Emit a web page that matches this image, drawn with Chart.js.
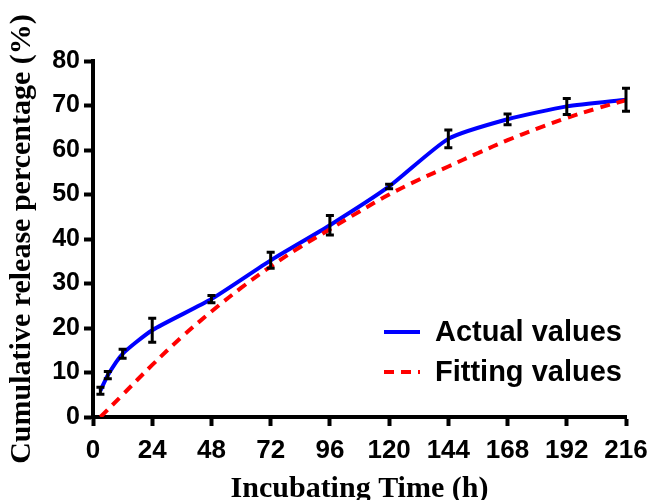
<!DOCTYPE html>
<html>
<head>
<meta charset="utf-8">
<script src="https://cdn.jsdelivr.net/npm/chart.js@4.4.1/dist/chart.umd.min.js"></script>
<style>
    html, body { margin: 0; padding: 0; background: #fff; }
    #wrap { width: 651px; height: 500px; }
</style>
</head>
<body>
<div id="wrap"><canvas id="releaseChart"></canvas></div>
<script>
// Donnees
const hours = [3, 6, 12, 24, 48, 72, 96, 120, 144, 168, 192, 216];
const actualValues = [5.9, 9.4, 14.2, 19.5, 26.5, 35.2, 43.1, 51.8, 62.5, 66.9, 69.8, 71.3];
const actualErrors = [0.8, 0.8, 1.0, 2.7, 0.8, 1.8, 2.2, 0.5, 2.0, 1.2, 1.8, 2.6];

const fitHours = [3, 12, 24, 36, 48, 60, 72, 84, 96, 108, 120, 132, 144, 156, 168, 180, 192, 204, 216];
const fitValues = [0, 5, 11.7, 18, 23.7, 29, 33.8, 38.2, 42.2, 46.2, 50, 53.3, 56.3, 59.3, 62.2, 64.8, 67.2, 69.3, 71.2];

const xTicks = [0, 24, 48, 72, 96, 120, 144, 168, 192, 216];
const yTicks = [0, 10, 20, 30, 40, 50, 60, 70, 80];

const seriesLabels = ['Actual values', 'Fitting values'];

const sansFamily = "Arial, 'Liberation Sans', sans-serif";
const serifBold = { family: "'Times New Roman', 'Liberation Serif', serif", size: 30, weight: 'bold' };

// Barres d'erreur dessinees avec les echelles du graphique
const errorBars = {
    id: 'errorBars',
    afterDatasetsDraw(chart) {
        const ctx = chart.ctx;
        const xs = chart.scales.x;
        const ys = chart.scales.y;
        ctx.save();
        ctx.strokeStyle = '#000';
        ctx.lineWidth = 3;
        hours.forEach((h, i) => {
            const px = xs.getPixelForValue(h);
            const top = ys.getPixelForValue(actualValues[i] + actualErrors[i]);
            const bot = ys.getPixelForValue(actualValues[i] - actualErrors[i]);
            ctx.beginPath();
            ctx.moveTo(px, top);
            ctx.lineTo(px, bot);
            ctx.moveTo(px - 4, top);
            ctx.lineTo(px + 4, top);
            ctx.moveTo(px - 4, bot);
            ctx.lineTo(px + 4, bot);
            ctx.stroke();
        });
        ctx.restore();
    }
};

// Legende dans la zone du graphique, en bas a droite
const insideLegend = {
    id: 'insideLegend',
    afterDraw(chart) {
        const ctx = chart.ctx;
        ctx.save();
        ctx.font = 'bold 29px ' + sansFamily;
        ctx.textBaseline = 'middle';
        ctx.fillStyle = '#000';
        const rows = [332, 372];
        seriesLabels.forEach((label, i) => {
            const ds = chart.data.datasets.find(d => d.label === label);
            const y = rows[i];
            ctx.strokeStyle = ds.borderColor;
            ctx.lineWidth = 4;
            ctx.setLineDash(ds.borderDash || []);
            ctx.beginPath();
            ctx.moveTo(384, y);
            ctx.lineTo(420, y);
            ctx.stroke();
            ctx.setLineDash([]);
            ctx.fillText(label, 435, y + 1);
        });
        ctx.restore();
    }
};

const chart = new Chart(document.getElementById('releaseChart'), {
    type: 'line',
    data: {
        datasets: [{
            label: seriesLabels[1],
            data: fitHours.map((h, i) => ({ x: h, y: fitValues[i] })),
            borderColor: '#ff0000',
            borderWidth: 4,
            borderDash: [10, 7],
            pointRadius: 0,
            tension: 0.4,
            fill: false
        }, {
            label: seriesLabels[0],
            data: hours.map((h, i) => ({ x: h, y: actualValues[i] })),
            borderColor: '#0000ff',
            borderWidth: 4,
            pointRadius: 0,
            tension: 0.2,
            fill: false
        }]
    },
    options: {
        responsive: true,
        maintainAspectRatio: false,
        animation: false,
        layout: { padding: { top: 61, right: 25, left: 0, bottom: 0 } },
        plugins: {
            legend: { display: false },
            tooltip: { enabled: false }
        },
        scales: {
            x: {
                type: 'linear',
                min: 0,
                max: 216,
                afterBuildTicks: scale => { scale.ticks = xTicks.map(v => ({ value: v })); },
                afterFit: scale => { scale.height = 83; scale.paddingLeft = 0; scale.paddingRight = 0; },
                ticks: { font: { family: sansFamily, size: 26, weight: 'bold' }, color: '#000', padding: 9, maxRotation: 0, autoSkip: false },
                grid: { drawOnChartArea: false, drawTicks: true, tickLength: 9, tickWidth: 4, color: '#000' },
                border: { display: true, width: 4, color: '#000' },
                title: { display: true, text: 'Incubating Time (h)', font: serifBold, color: '#000', padding: { top: 0, bottom: -7 } }
            },
            y: {
                min: 0,
                max: 80,
                afterBuildTicks: scale => { scale.ticks = yTicks.map(v => ({ value: v })); },
                afterFit: scale => { scale.width = 93; scale.paddingTop = 0; scale.paddingBottom = 0; },
                ticks: { font: { family: sansFamily, size: 25, weight: 'bold' }, color: '#000', padding: 4 },
                grid: { drawOnChartArea: false, drawTicks: true, tickLength: 9, tickWidth: 4, color: '#000' },
                border: { display: true, width: 4, color: '#000' },
                title: { display: true, text: 'Cumulative release percentage (%)', font: serifBold, color: '#000', padding: { top: 4, bottom: 0 } }
            }
        }
    },
    plugins: [errorBars, insideLegend]
});
</script>
</body>
</html>
